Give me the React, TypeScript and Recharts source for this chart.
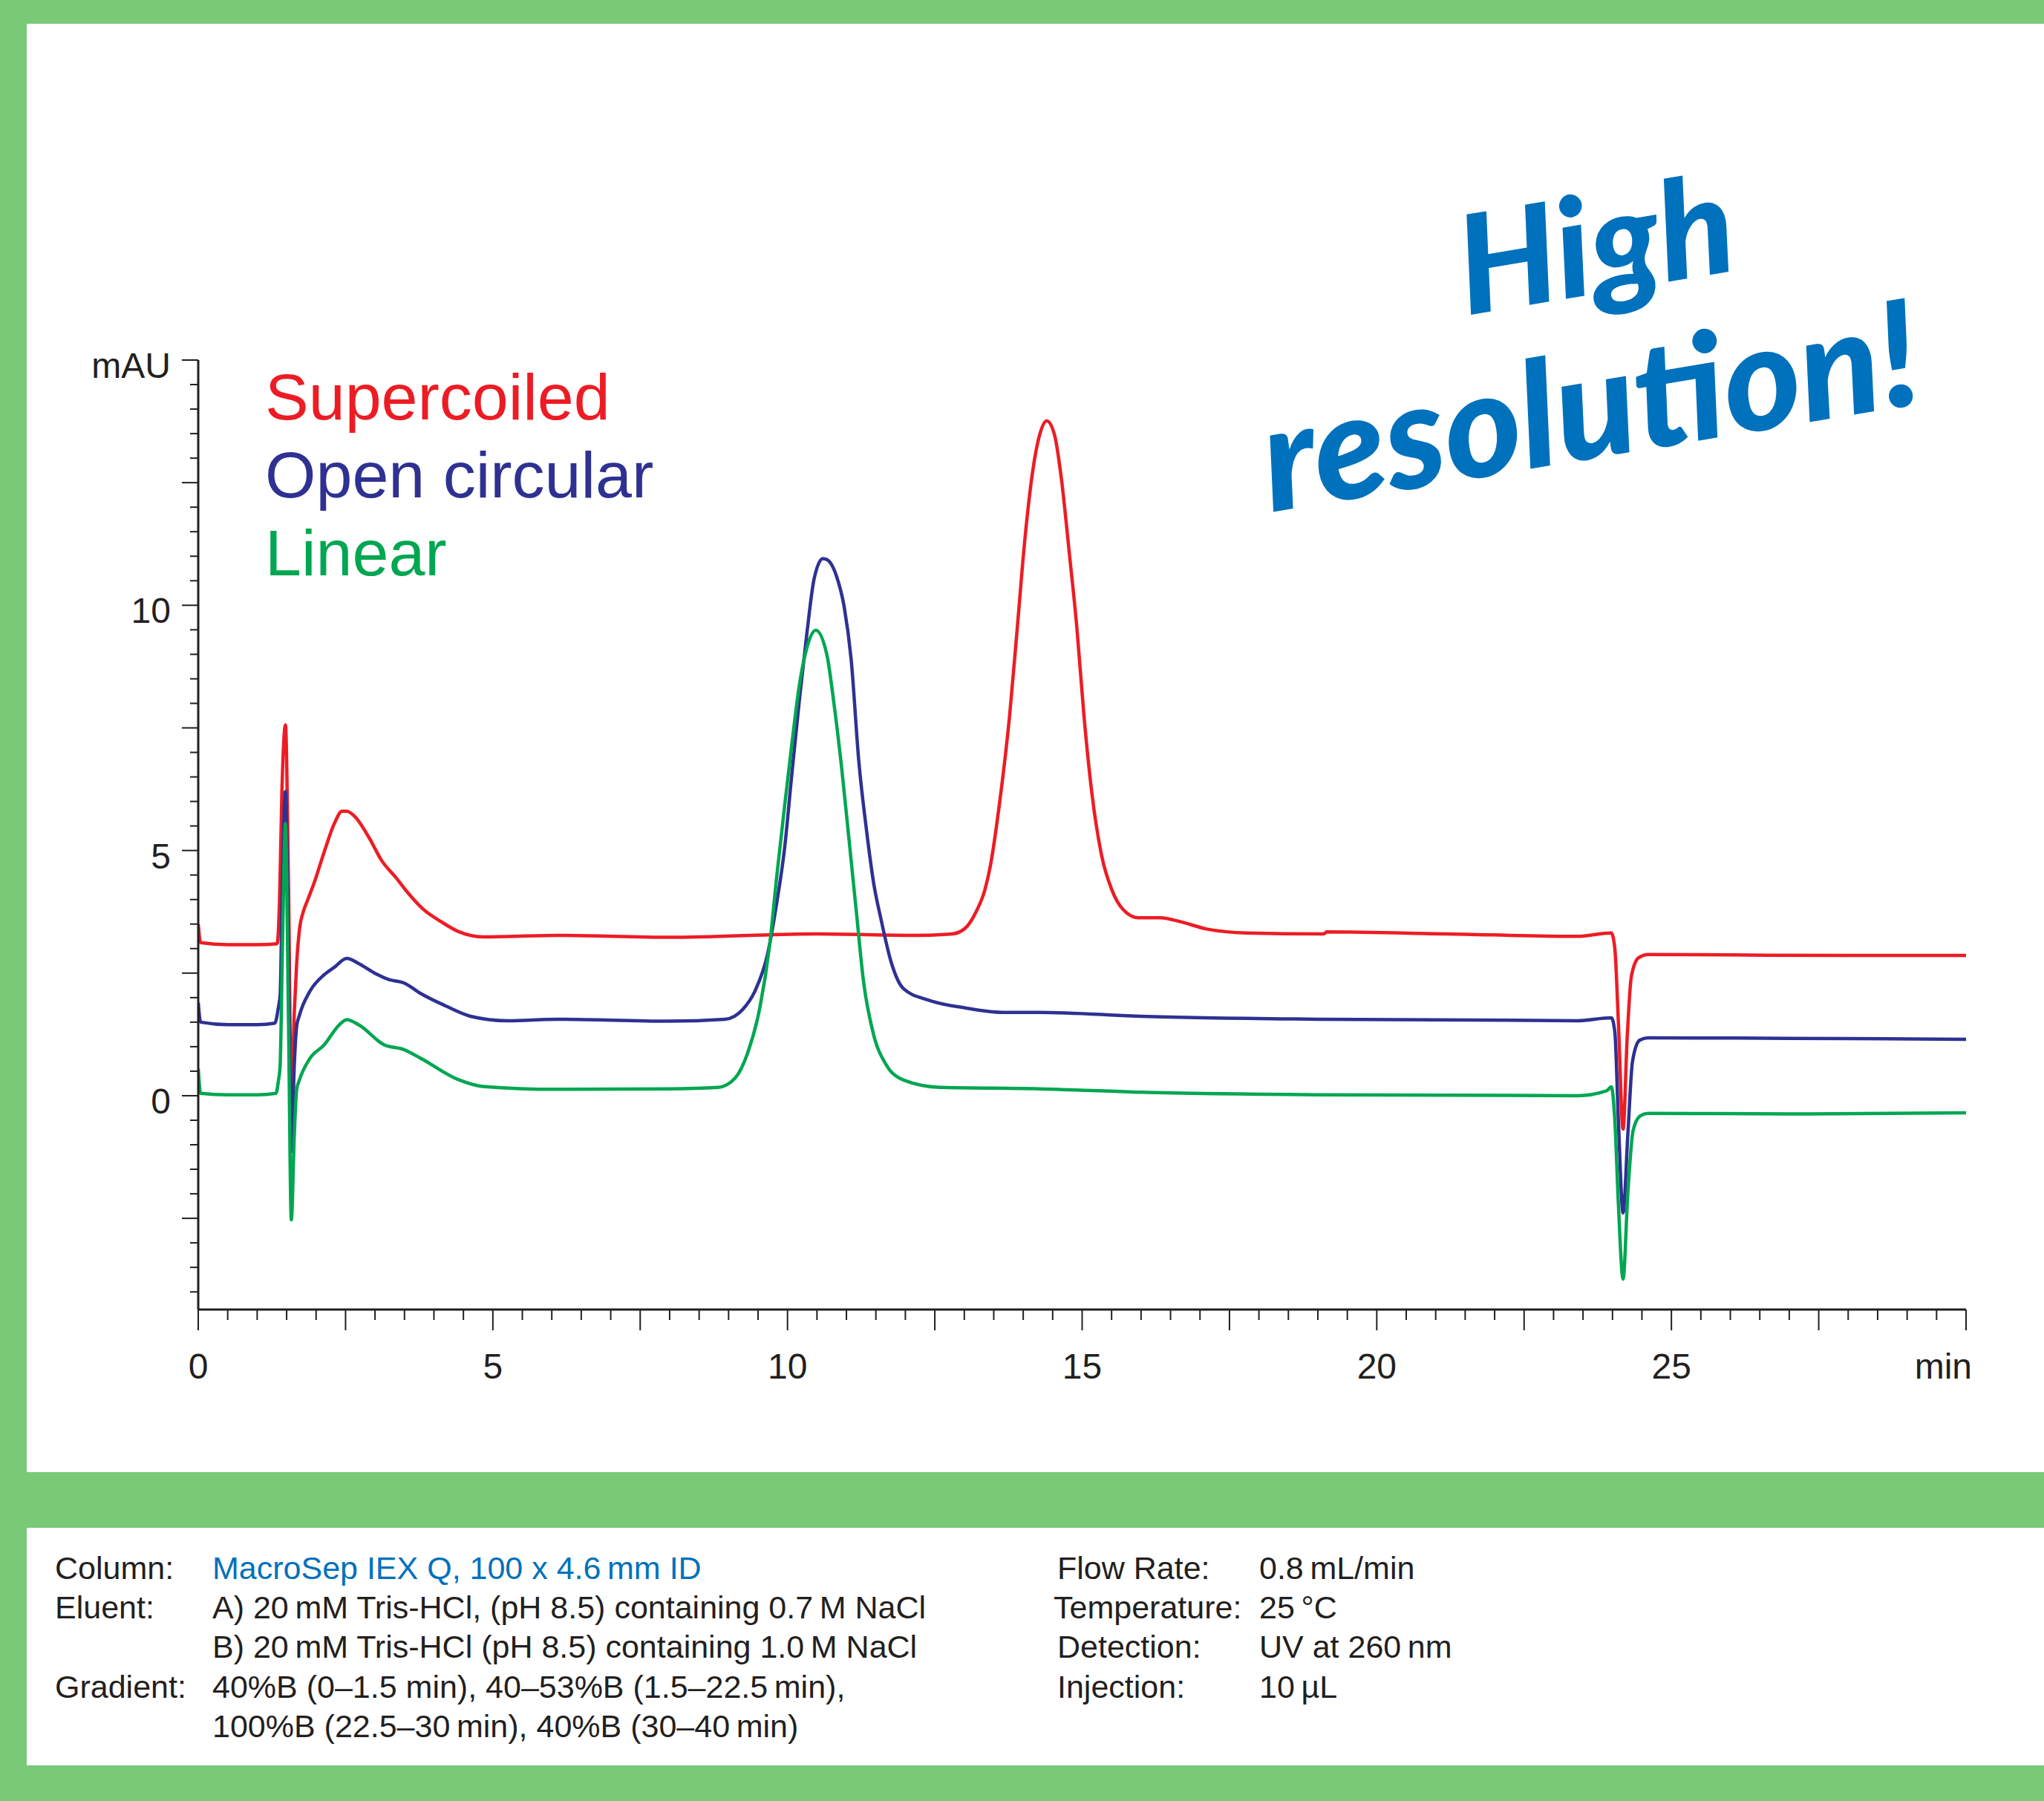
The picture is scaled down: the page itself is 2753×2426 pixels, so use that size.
import React from 'react';
import { LineChart, Line, XAxis, YAxis } from 'recharts';

const W = 2753;
const H = 2426;
const CHART_H = 1983;

const RED = '#ED1C24';
const BLUE = '#2E3192';
const GREEN = '#00A651';
const FRAME = '#79C977';
const TITLE_BLUE = '#0071BC';
const INK = '#231F20';
const FONT = '"Liberation Sans", Arial, Helvetica, sans-serif';

// Supercoiled (red)
const supercoiledT = [0, 0.04, 0.5, 1.0, 1.34, 1.38, 1.42, 1.48, 1.53, 1.58, 1.63, 1.67, 1.72, 1.78, 1.86, 1.97, 2.14, 2.31, 2.44, 2.52, 2.65, 2.9, 3.11, 3.36, 3.57, 3.82, 4.12, 4.41, 4.83, 6.09, 8.0, 10.5, 12.18, 12.8, 13.02, 13.2, 13.35, 13.44, 13.6, 13.77, 13.9, 14.02, 14.15, 14.28, 14.4, 14.53, 14.65, 14.78, 14.91, 15.03, 15.16, 15.33, 15.5, 15.7, 15.95, 16.33, 16.66, 17.11, 17.78, 19.1, 19.15, 21.16, 23.4, 23.98, 24.04, 24.1, 24.18, 24.25, 24.32, 24.44, 24.61, 26, 28, 30];
const supercoiledV = [3.5, 3.12, 3.08, 3.08, 3.1, 4.0, 6.2, 7.56, 4.5, -0.1, 1.69, 2.69, 3.41, 3.74, 4.0, 4.35, 4.98, 5.55, 5.8, 5.8, 5.7, 5.26, 4.8, 4.44, 4.12, 3.8, 3.55, 3.35, 3.24, 3.27, 3.23, 3.3, 3.27, 3.3, 3.42, 3.75, 4.2, 4.67, 5.98, 7.76, 9.55, 11.24, 12.64, 13.48, 13.76, 13.48, 12.56, 11.09, 9.55, 7.76, 6.22, 4.9, 4.21, 3.79, 3.63, 3.63, 3.55, 3.4, 3.32, 3.3, 3.34, 3.3, 3.25, 3.32, 3.0, 1.5, -0.68, 1.2, 2.43, 2.81, 2.88, 2.87, 2.86, 2.86];

// Open circular (blue)
const openCircularT = [0, 0.04, 0.5, 1.0, 1.3, 1.36, 1.39, 1.43, 1.48, 1.53, 1.58, 1.63, 1.67, 1.72, 1.89, 2.14, 2.31, 2.52, 2.73, 2.98, 3.23, 3.49, 3.78, 4.2, 4.62, 5.25, 6.09, 7.98, 8.94, 9.24, 9.45, 9.66, 9.82, 9.95, 10.07, 10.2, 10.33, 10.45, 10.6, 10.67, 10.83, 10.96, 11.08, 11.21, 11.34, 11.46, 11.59, 11.76, 11.97, 12.39, 13.02, 13.65, 14.28, 16, 19, 23.4, 23.98, 24.04, 24.1, 24.18, 24.26, 24.34, 24.46, 24.6, 27, 30];
const openCircularV = [1.9, 1.5, 1.45, 1.45, 1.48, 1.8, 2.05, 4.5, 6.2, 3.0, -1.14, 0.62, 1.41, 1.65, 2.12, 2.47, 2.62, 2.8, 2.69, 2.51, 2.37, 2.3, 2.08, 1.83, 1.62, 1.53, 1.56, 1.52, 1.56, 1.76, 2.14, 2.88, 3.95, 5.04, 6.51, 8.05, 9.44, 10.53, 10.95, 10.93, 10.6, 9.98, 8.9, 6.82, 5.42, 4.35, 3.58, 2.72, 2.18, 1.95, 1.79, 1.7, 1.7, 1.62, 1.56, 1.53, 1.59, 1.3, -0.5, -2.39, -0.8, 0.7, 1.13, 1.18, 1.17, 1.15];

// Linear (green)
const linearT = [0, 0.04, 0.5, 1.0, 1.32, 1.36, 1.39, 1.43, 1.48, 1.53, 1.58, 1.63, 1.67, 1.72, 1.89, 2.14, 2.39, 2.52, 2.73, 3.15, 3.49, 3.78, 4.41, 4.83, 6.09, 7.98, 8.82, 9.11, 9.32, 9.53, 9.7, 9.82, 9.95, 10.07, 10.2, 10.33, 10.48, 10.67, 10.79, 10.92, 11.04, 11.17, 11.29, 11.46, 11.67, 11.97, 12.6, 14.28, 16, 19, 23.4, 23.9, 23.98, 24.04, 24.1, 24.18, 24.26, 24.35, 24.47, 24.6, 27, 30];
const linearV = [0.55, 0.05, 0.02, 0.02, 0.05, 0.3, 0.62, 3.1, 5.55, 1.69, -2.53, -0.81, 0.12, 0.33, 0.75, 1.04, 1.44, 1.55, 1.44, 1.04, 0.94, 0.76, 0.33, 0.19, 0.13, 0.14, 0.17, 0.36, 0.86, 1.79, 3.1, 4.5, 5.9, 7.13, 8.36, 9.14, 9.49, 8.98, 7.98, 6.67, 5.27, 3.73, 2.33, 1.25, 0.64, 0.32, 0.17, 0.14, 0.07, 0.02, 0.0, 0.1, 0.18, -0.5, -2.2, -3.74, -2.0, -0.71, -0.41, -0.36, -0.37, -0.35];

const seriesNames = ['Supercoiled', 'Open circular', 'Linear'];
const seriesColors = [RED, BLUE, GREEN];

const xTicks = Array.from({ length: 61 }, (_, i) => i * 0.5);
const yTicks = Array.from({ length: 39 }, (_, i) => -4 + i * 0.5);
const xTickLabels: Record<string, string> = { '0': '0', '5': '5', '10': '10', '15': '15', '20': '20', '25': '25', '30': 'min' };
const yTickLabels: Record<string, string> = { '0': '0', '5': '5', '10': '10', '15': 'mAU' };

const leftInfo = [
  ['Column:', 'MacroSep IEX Q, 100 x 4.6\u2009mm ID'],
  ['Eluent:', 'A) 20\u2009mM Tris-HCl, (pH 8.5) containing 0.7\u2009M NaCl'],
  ['', 'B) 20\u2009mM Tris-HCl (pH 8.5) containing 1.0\u2009M NaCl'],
  ['Gradient:', '40%B (0\u20131.5 min), 40\u201353%B (1.5\u201322.5\u2009min),'],
  ['', '100%B (22.5\u201330\u2009min), 40%B (30\u201340\u2009min)'],
];
const rightInfo = [
  ['Flow Rate:', '0.8\u2009mL/min'],
  ['Temperature:', '25\u2009\u00B0C'],
  ['Detection:', 'UV at 260\u2009nm'],
  ['Injection:', '10\u2009\u00B5L'],
];

const build = (ts: number[], vs: number[]) => ts.map((t, i) => ({ t, v: vs[i] }));
const supercoiledData = build(supercoiledT, supercoiledV);
const openCircularData = build(openCircularT, openCircularV);
const linearData = build(linearT, linearV);

const isMajor = (v: number) => Math.abs(v / 2.5 - Math.round(v / 2.5)) < 1e-6;

function XTick(props: any) {
  const { x, y, payload } = props;
  const val = payload.value;
  const label = xTickLabels[String(val)];
  return (
    <g>
      <line x1={x} x2={x} y1={y} y2={y + (isMajor(val) ? 28 : 14)} stroke={INK} strokeWidth={2} />
      {label && (
        <text x={val === 30 ? x + 8 : x} y={y + 93} textAnchor={val === 30 ? 'end' : 'middle'} fontSize={48} fill={INK} fontFamily={FONT}>
          {label}
        </text>
      )}
    </g>
  );
}

function YTick(props: any) {
  const { x, y, payload } = props;
  const val = payload.value;
  const label = yTickLabels[String(val)];
  return (
    <g>
      <line x1={x - (isMajor(val) ? 22 : 11)} x2={x} y1={y} y2={y} stroke={INK} strokeWidth={2} />
      {label && (
        <text x={x - 37} y={y + 24} textAnchor="end" fontSize={48} fill={INK} fontFamily={FONT}>
          {label}
        </text>
      )}
    </g>
  );
}

export default function App() {
  const infoY = [2127, 2180, 2233, 2287, 2340];
  return (
    <div style={{ position: 'absolute', left: 0, top: 0, width: W, height: H, background: '#fff', overflow: 'hidden' }}>
      <div style={{ position: 'absolute', left: 0, top: 0, width: W, height: 32, background: FRAME }} />
      <div style={{ position: 'absolute', left: 0, top: 0, width: 36, height: H, background: FRAME }} />
      <div style={{ position: 'absolute', left: 0, top: 1983, width: W, height: 75, background: FRAME }} />
      <div style={{ position: 'absolute', left: 0, top: 2378, width: W, height: 48, background: FRAME }} />

      <div style={{ position: 'absolute', left: 0, top: 0 }}>
        <LineChart width={W} height={CHART_H} margin={{ top: 485, right: 105, left: 167, bottom: 99 }}>
          <XAxis
            dataKey="t"
            type="number"
            domain={[0, 30]}
            ticks={xTicks}
            interval={0}
            tick={<XTick />}
            tickLine={false}
            tickSize={0}
            tickMargin={0}
            height={120}
            axisLine={{ stroke: INK, strokeWidth: 3 }}
            allowDataOverflow
          />
          <YAxis
            dataKey="v"
            type="number"
            domain={[-4.36, 15]}
            ticks={yTicks}
            interval={0}
            tick={<YTick />}
            tickLine={false}
            tickSize={0}
            tickMargin={0}
            width={100}
            axisLine={{ stroke: INK, strokeWidth: 3 }}
            allowDataOverflow
          />
          <Line data={supercoiledData} dataKey="v" name={seriesNames[0]} type="monotone" stroke={seriesColors[0]} strokeWidth={4.5} dot={false} isAnimationActive={false} />
          <Line data={openCircularData} dataKey="v" name={seriesNames[1]} type="monotone" stroke={seriesColors[1]} strokeWidth={4.5} dot={false} isAnimationActive={false} />
          <Line data={linearData} dataKey="v" name={seriesNames[2]} type="monotone" stroke={seriesColors[2]} strokeWidth={4.5} dot={false} isAnimationActive={false} />
        </LineChart>
      </div>

      <svg width={W} height={H} style={{ position: 'absolute', left: 0, top: 0, pointerEvents: 'none' }}>
        {seriesNames.map((n, i) => (
          <text key={n} x={357} y={565 + i * 105} fontSize={88} fill={seriesColors[i]} fontFamily={FONT}>
            {n}
          </text>
        ))}
        <text x={1975} y={425} fontSize={185} fontWeight={900} fontStyle="italic" fill={TITLE_BLUE} fontFamily='Lato, "DejaVu Sans", sans-serif' transform="rotate(-9.5 1975 425)">
          High
        </text>
        <text x={1712} y={690} fontSize={198} fontWeight={900} fontStyle="italic" fill={TITLE_BLUE} fontFamily='Lato, "DejaVu Sans", sans-serif' transform="rotate(-9.5 1712 690)">
          resolution!
        </text>

        {leftInfo.map((row, i) => (
          <g key={'l' + i}>
            {row[0] && (
              <text x={74} y={infoY[i]} fontSize={43} fill={INK} fontFamily={FONT}>
                {row[0]}
              </text>
            )}
            <text x={286} y={infoY[i]} fontSize={43} fill={i === 0 ? TITLE_BLUE : INK} fontFamily={FONT}>
              {row[1]}
            </text>
          </g>
        ))}
        {rightInfo.map((row, i) => (
          <g key={'r' + i}>
            <text x={i === 1 ? 1419 : 1424} y={infoY[i]} fontSize={43} fill={INK} fontFamily={FONT}>
              {row[0]}
            </text>
            <text x={1696} y={infoY[i]} fontSize={43} fill={INK} fontFamily={FONT}>
              {row[1]}
            </text>
          </g>
        ))}
      </svg>
    </div>
  );
}
